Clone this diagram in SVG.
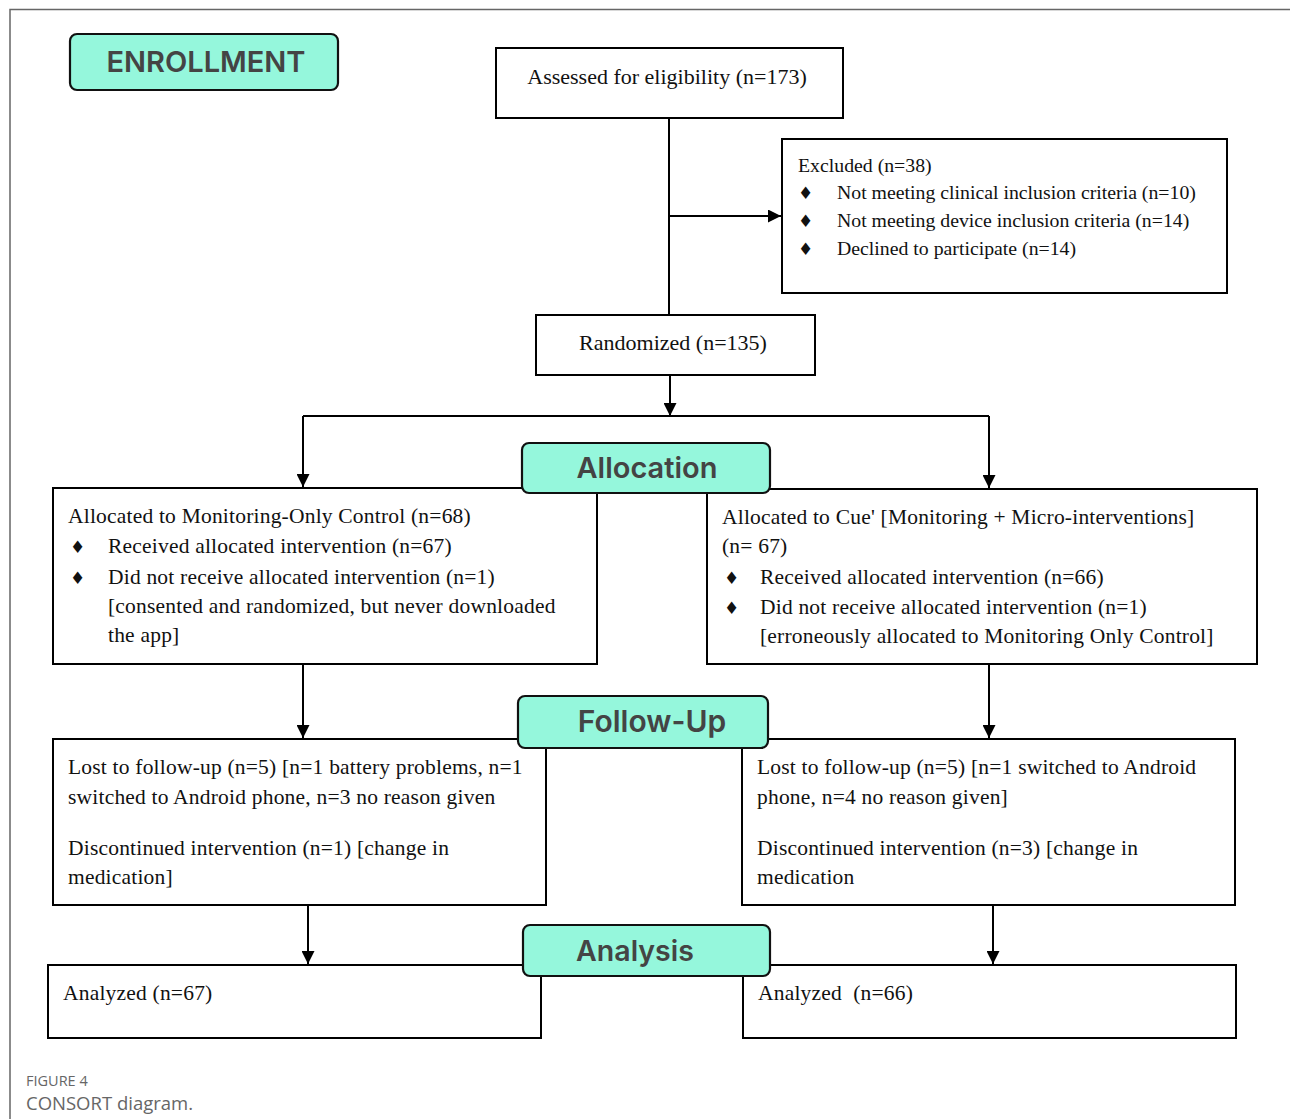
<svg xmlns="http://www.w3.org/2000/svg" width="1290" height="1119" viewBox="0 0 1290 1119">
<defs>
<marker id="arr" viewBox="0 0 10 10" refX="10" refY="5" markerWidth="6.5" markerHeight="6.5" orient="auto" markerUnits="strokeWidth">
<path d="M0,0 L10,5 L0,10 z" fill="#000"/>
</marker>
<style>
.box{fill:#fff;stroke:#000;stroke-width:2}
.hdr{fill:#95f7dc;stroke:#111;stroke-width:2.2}
.ht{font-family:Inter,"Open Sans","Liberation Sans",sans-serif;font-weight:600;fill:#444;text-anchor:middle}
.t{font-family:"Liberation Serif","Times New Roman",serif;fill:#111}
.m{font-size:21.5px;letter-spacing:0.2px}
.x{font-size:19.8px}
.b{font-family:"DejaVu Sans",sans-serif;fill:#111;font-size:17px}
.ln{stroke:#000;stroke-width:2;fill:none}
.cap{font-family:"Open Sans","Liberation Sans",sans-serif;fill:#666}
</style>
</defs>
<rect width="1290" height="1119" fill="#fff"/>
<path d="M10,1119 V9.5 H1290" fill="none" stroke="#666" stroke-width="1.5"/>

<g id="connectors">
<path class="ln" d="M669,118 V315"/>
<path class="ln" d="M669,216 H781" marker-end="url(#arr)"/>
<path class="ln" d="M303,416 H989"/>
<path class="ln" d="M670,375 V416" marker-end="url(#arr)"/>
<path class="ln" d="M303,416 V487" marker-end="url(#arr)"/>
<path class="ln" d="M989,416 V488" marker-end="url(#arr)"/>
<path class="ln" d="M303,664 V738" marker-end="url(#arr)"/>
<path class="ln" d="M989,664 V738" marker-end="url(#arr)"/>
<path class="ln" d="M308,905 V964" marker-end="url(#arr)"/>
<path class="ln" d="M993,905 V964" marker-end="url(#arr)"/>
</g>

<g id="assessed">
<rect class="box" x="496" y="48" width="347" height="70"/>
<text class="t" x="667" y="84" font-size="22" text-anchor="middle">Assessed for eligibility (n=173)</text>
</g>

<g id="excluded">
<rect class="box" x="782" y="139" width="445" height="154"/>
<text class="t x" x="798" y="172">Excluded (n=38)</text>
<text class="b" x="798" y="199">♦</text>
<text class="t x" x="837" y="199">Not meeting clinical inclusion criteria (n=10)</text>
<text class="b" x="798" y="227">♦</text>
<text class="t x" x="837" y="227">Not meeting device inclusion criteria (n=14)</text>
<text class="b" x="798" y="255">♦</text>
<text class="t x" x="837" y="255">Declined to participate (n=14)</text>
</g>

<g id="randomized">
<rect class="box" x="536" y="315" width="279" height="60"/>
<text class="t" x="673" y="350" font-size="22" text-anchor="middle">Randomized (n=135)</text>
</g>

<g id="alloc-left">
<rect class="box" x="53" y="488" width="544" height="176"/>
<text class="t m" x="68" y="523">Allocated to Monitoring-Only Control (n=68)</text>
<text class="b" x="70" y="553">♦</text>
<text class="t m" x="108" y="553">Received allocated intervention (n=67)</text>
<text class="b" x="70" y="584">♦</text>
<text class="t m" x="108" y="584">Did not receive allocated intervention (n=1)</text>
<text class="t m" x="108" y="613">[consented and randomized, but never downloaded</text>
<text class="t m" x="108" y="642">the app]</text>
</g>

<g id="alloc-right">
<rect class="box" x="707" y="489" width="550" height="175"/>
<text class="t m" x="722" y="524">Allocated to Cue' [Monitoring + Micro-interventions]</text>
<text class="t m" x="722" y="553">(n= 67)</text>
<text class="b" x="724" y="584">♦</text>
<text class="t m" x="760" y="584">Received allocated intervention (n=66)</text>
<text class="b" x="724" y="614">♦</text>
<text class="t m" x="760" y="614">Did not receive allocated intervention (n=1)</text>
<text class="t m" x="760" y="643">[erroneously allocated to Monitoring Only Control]</text>
</g>

<g id="fu-left">
<rect class="box" x="53" y="739" width="493" height="166"/>
<text class="t m" x="68" y="774">Lost to follow-up (n=5) [n=1 battery problems, n=1</text>
<text class="t m" x="68" y="804">switched to Android phone, n=3 no reason given</text>
<text class="t m" x="68" y="855">Discontinued intervention (n=1) [change in</text>
<text class="t m" x="68" y="884">medication]</text>
</g>

<g id="fu-right">
<rect class="box" x="742" y="739" width="493" height="166"/>
<text class="t m" x="757" y="774">Lost to follow-up (n=5) [n=1 switched to Android</text>
<text class="t m" x="757" y="804">phone, n=4 no reason given]</text>
<text class="t m" x="757" y="855">Discontinued intervention (n=3) [change in</text>
<text class="t m" x="757" y="884">medication</text>
</g>

<g id="an-left">
<rect class="box" x="48" y="965" width="493" height="73"/>
<text class="t m" x="63" y="1000">Analyzed (n=67)</text>
</g>

<g id="an-right">
<rect class="box" x="743" y="965" width="493" height="73"/>
<text class="t m" x="758" y="1000" xml:space="preserve">Analyzed  (n=66)</text>
</g>

<g id="h-enroll">
<rect class="hdr" x="70" y="34" width="268" height="56" rx="7"/>
<text class="ht" x="206" y="72" font-size="29">ENROLLMENT</text>
</g>
<g id="h-alloc">
<rect class="hdr" x="522" y="443" width="248" height="50" rx="7"/>
<text class="ht" x="647" y="478" font-size="29">Allocation</text>
</g>
<g id="h-fu">
<rect class="hdr" x="518" y="696" width="250" height="52" rx="7"/>
<text class="ht" x="652" y="732" font-size="30">Follow-Up</text>
</g>
<g id="h-an">
<rect class="hdr" x="523" y="925" width="247" height="51" rx="7"/>
<text class="ht" x="635" y="961" font-size="28.5">Analysis</text>
</g>

<g id="caption">
<text class="cap" x="26" y="1086" font-size="14.5">FIGURE 4</text>
<text class="cap" x="26" y="1110" font-size="18.5">CONSORT diagram.</text>
</g>
</svg>
